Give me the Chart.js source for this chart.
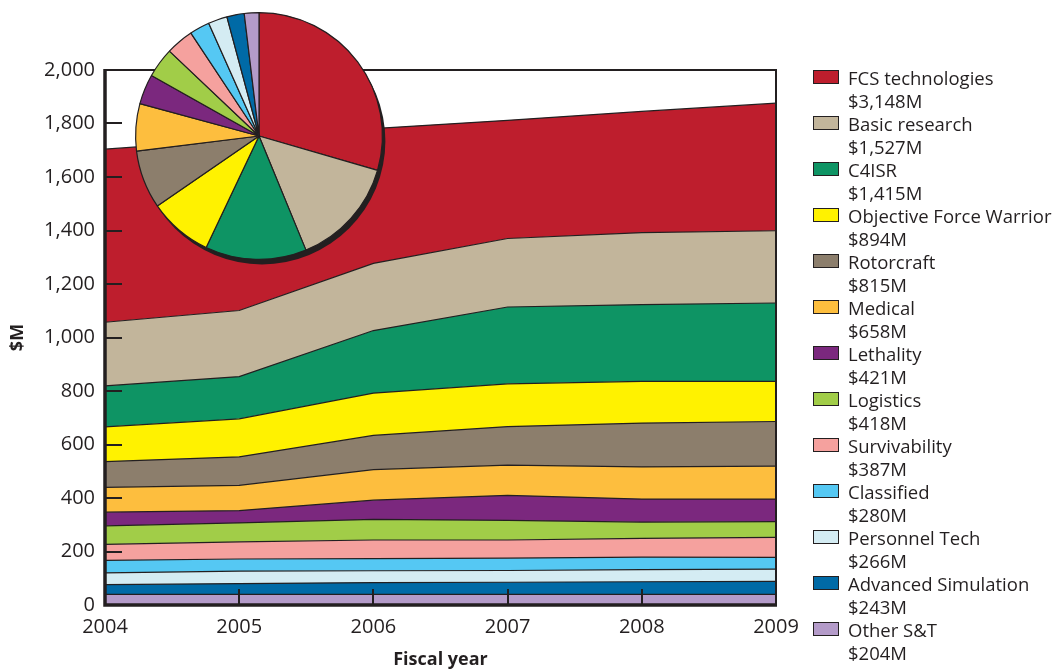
<!DOCTYPE html>
<html>
<head>
<meta charset="utf-8">
<script src="https://cdn.jsdelivr.net/npm/chart.js@4"></script>
<style>
  html, body { margin: 0; padding: 0; background: #fff; }
  #wrap { position: relative; width: 1060px; height: 669px; overflow: hidden; font-family: "Open Sans", sans-serif; color: #231f20; }
  #main { position: absolute; left: 0; top: 0; }
  #pieBox { position: absolute; left: 128px; top: 5px; width: 262px; height: 262px; }
  #legend { position: absolute; left: 813px; top: 66px; }
  .item { position: relative; height: 46px; }
  .sw { position: absolute; left: 0; top: 4px; width: 24px; height: 12px; border: 1.5px solid #231f20; }
  .txt { position: absolute; left: 35px; top: 0; font-size: 18.5px; line-height: 23px; white-space: nowrap; }
</style>
</head>
<body>
<div id="wrap">
  <canvas id="main" width="1060" height="669"></canvas>
  <div id="pieBox"><canvas id="pie"></canvas></div>
  <div id="legend"></div>
</div>
<script>
// ---------- DATA ----------
const years = ['2004', '2005', '2006', '2007', '2008', '2009'];
const yTicks = [0, 200, 400, 600, 800, 1000, 1200, 1400, 1600, 1800, 2000];

// series values ($M per year)
const fcsTech      = [647, 639, 504, 442, 453, 477];
const basicRes     = [238, 247, 251, 256, 269, 270];
const c4isr        = [153, 158, 234, 287, 287, 293];
const ofWarrior    = [130, 142, 158, 160, 156, 150];
const rotorcraft   = [96, 107, 128, 144, 164, 167];
const medical      = [93, 94, 114, 113, 120, 123];
const lethality    = [51, 46, 72, 94, 86, 84];
const logistics    = [69, 71, 77, 73, 61, 59];
const survivab     = [60, 64, 70, 68, 70, 75];
const classified   = [47, 45, 45, 46, 47, 44];
const personnel    = [44, 47, 44, 44, 45, 46];
const advSim       = [36, 40, 44, 45, 47, 48];
const otherST      = [40, 40, 40, 40, 40, 40];

// legend / pie (top to bottom of legend)
const names = ['FCS technologies', 'Basic research', 'C4ISR', 'Objective Force Warrior', 'Rotorcraft',
  'Medical', 'Lethality', 'Logistics', 'Survivability', 'Classified', 'Personnel Tech',
  'Advanced Simulation', 'Other S&T'];
const totalLabels = ['$3,148M', '$1,527M', '$1,415M', '$894M', '$815M', '$658M', '$421M',
  '$418M', '$387M', '$280M', '$266M', '$243M', '$204M'];
const totals = [3148, 1527, 1415, 894, 815, 658, 421, 418, 387, 280, 266, 243, 204];
const colors = ['#be1e2d', '#c2b59b', '#0e9464', '#fff200', '#8c7e6c', '#fdbe3e', '#7b287e',
  '#a1cd48', '#f5a19e', '#55c8f3', '#d4ecf3', '#006aa6', '#b49bc9'];
const seriesData = [fcsTech, basicRes, c4isr, ofWarrior, rotorcraft, medical, lethality,
  logistics, survivab, classified, personnel, advSim, otherST];

const INK = '#231f20';
const FONT = '"Open Sans", sans-serif';

// ---------- LEGEND (HTML text) ----------
const leg = document.getElementById('legend');
names.forEach((n, i) => {
  const it = document.createElement('div');
  it.className = 'item';
  const sw = document.createElement('div');
  sw.className = 'sw';
  sw.style.background = colors[i];
  const tx = document.createElement('div');
  tx.className = 'txt';
  const l1 = document.createElement('div'); l1.textContent = n;
  const l2 = document.createElement('div'); l2.textContent = totalLabels[i];
  tx.appendChild(l1); tx.appendChild(l2);
  it.appendChild(sw); it.appendChild(tx);
  leg.appendChild(it);
});

// ---------- MAIN STACKED AREA ----------
const order = [];
for (let i = names.length - 1; i >= 0; i--) order.push(i); // bottom to top
const datasets = order.map((idx, k) => ({
  label: names[idx],
  data: seriesData[idx],
  backgroundColor: colors[idx],
  borderColor: INK,
  borderWidth: 1.2,
  pointRadius: 0,
  tension: 0,
  fill: k === 0 ? 'origin' : '-1'
}));

const framePlugin = {
  id: 'frame',
  afterDraw(chart) {
    const { ctx, chartArea: a, scales } = chart;
    ctx.save();
    ctx.strokeStyle = INK;
    // inward tick marks
    ctx.lineWidth = 2;
    yTicks.forEach(v => {
      if (v === 0 || v === 2000) return;
      const y = Math.round(scales.y.getPixelForValue(v));
      ctx.beginPath(); ctx.moveTo(a.left, y); ctx.lineTo(a.left + 17, y); ctx.stroke();
    });
    years.forEach((yr, i) => {
      if (i === 0 || i === years.length - 1) return;
      const x = Math.round(scales.x.getPixelForValue(i));
      ctx.beginPath(); ctx.moveTo(x, a.bottom); ctx.lineTo(x, a.bottom - 16); ctx.stroke();
    });
    // top and right frame
    ctx.lineWidth = 2;
    ctx.beginPath();
    ctx.moveTo(a.left, a.top); ctx.lineTo(a.right, a.top); ctx.lineTo(a.right, a.bottom);
    ctx.stroke();
    // left and bottom axes
    ctx.lineWidth = 3.5;
    ctx.beginPath();
    ctx.moveTo(a.left, a.top - 1); ctx.lineTo(a.left, a.bottom); ctx.lineTo(a.right + 1, a.bottom);
    ctx.stroke();
    ctx.restore();
  }
};

new Chart(document.getElementById('main'), {
  type: 'line',
  data: { labels: years, datasets },
  options: {
    responsive: false,
    animation: false,
    layout: { padding: { left: 0, top: 70, right: 284, bottom: 0 } },
    plugins: { legend: { display: false }, tooltip: { enabled: false } },
    scales: {
      x: {
        type: 'category',
        offset: false,
        grid: { display: false, drawTicks: false },
        border: { display: false },
        ticks: { color: INK, font: { family: FONT, size: 20 }, padding: 10, maxRotation: 0, autoSkip: false },
        title: { display: true, text: 'Fiscal year', color: INK, font: { family: FONT, size: 18, weight: 'bold', lineHeight: 1 }, padding: { top: 0, bottom: 0 } },
        afterFit(s) { s.height = 64; }
      },
      y: {
        stacked: true,
        min: 0, max: 2000,
        afterBuildTicks(s) { s.ticks = yTicks.map(v => ({ value: v })); },
        grid: { display: false, drawTicks: false },
        border: { display: false },
        ticks: { color: INK, font: { family: FONT, size: 20 }, padding: 10,
          callback: v => v.toLocaleString('en-US') },
        title: { display: true, text: '$M', color: INK, font: { family: FONT, size: 18, weight: 'bold' }, padding: { top: 7, bottom: 6 } },
        afterFit(s) { s.width = 105; }
      }
    }
  },
  plugins: [framePlugin]
});

// ---------- PIE INSET ----------
const shadowPlugin = {
  id: 'pieShadow',
  beforeDatasetsDraw(chart) {
    const arc = chart.getDatasetMeta(0).data[0];
    if (!arc) return;
    const { ctx } = chart;
    ctx.save();
    ctx.fillStyle = INK;
    ctx.beginPath();
    ctx.arc(arc.x + 3, arc.y + 5, arc.outerRadius, 0, Math.PI * 2);
    ctx.fill();
    ctx.restore();
  }
};

const pc = document.getElementById('pie');
pc.width = 262; pc.height = 262;
new Chart(pc, {
  type: 'pie',
  data: { labels: names, datasets: [{ data: totals, backgroundColor: colors, borderColor: INK, borderWidth: 1.2 }] },
  options: {
    responsive: false,
    animation: false,
    layout: { padding: 7 },
    plugins: { legend: { display: false }, tooltip: { enabled: false } }
  },
  plugins: [shadowPlugin]
});
</script>
</body>
</html>
